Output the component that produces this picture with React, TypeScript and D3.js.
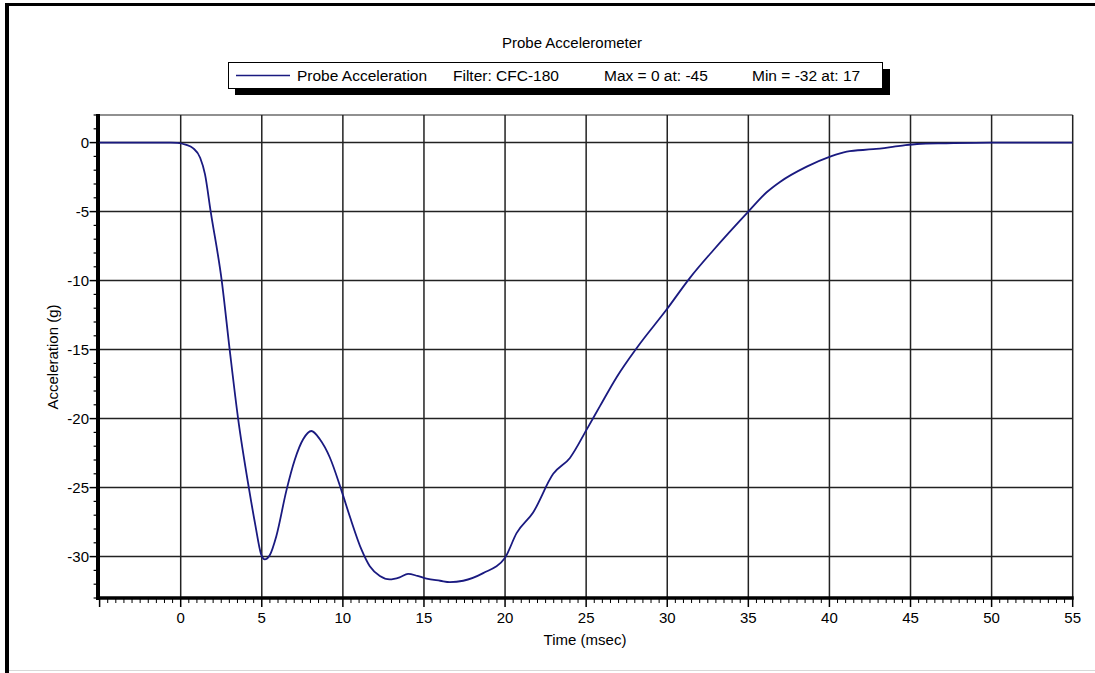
import * as d3 from "d3";

// probe acceleration trace (time in msec, accel in g)
const timeMs = [
  -5, -0.6, -0.2, 0.3, 0.76, 1.2, 1.5, 1.85, 2.53, 3.02, 3.54, 4.2, 4.6, 4.95,
  5.18, 5.49, 5.9, 6.52, 7.03, 7.55, 8.06, 8.58, 9.19, 9.91, 10.43, 11.15, 11.66,
  12.28, 12.89, 13.5, 14.02, 14.6, 15.16, 16.0, 16.6, 17.42, 18.65, 19.99, 20.71,
  21.73, 22.97, 24.0, 25.03, 25.85, 26.88, 28.11, 29.96, 31.4, 32.84, 35.0, 36.13,
  36.95, 38.6, 40.04, 41.07, 42.7, 44.36, 45.4, 47.2, 50, 55,
];
const accelG = [
  0, 0, -0.02, -0.15, -0.4, -1.1, -2.3, -5.0, -10.0, -15.0, -20.0, -25.0, -27.7,
  -29.8, -30.2, -29.9, -28.5, -25.2, -23.0, -21.5, -20.9, -21.5, -22.8, -25.2, -27.1,
  -29.5, -30.7, -31.4, -31.65, -31.5, -31.25, -31.4, -31.6, -31.75, -31.85, -31.75,
  -31.2, -30.1, -28.3, -26.8, -24.0, -22.85, -20.8, -19.1, -17.0, -14.9, -12.1, -9.8,
  -7.8, -5.0, -3.6, -2.85, -1.74, -1.01, -0.65, -0.48, -0.24, -0.1, -0.05, 0, 0,
];

const xTickLabels = [0, 5, 10, 15, 20, 25, 30, 35, 40, 45, 50, 55];
const yTickLabels = [0, -5, -10, -15, -20, -25, -30];

const chartTitle = "Probe Accelerometer";
const seriesName = "Probe Acceleration";
const legendNotes = ["Filter: CFC-180", "Max = 0 at: -45", "Min = -32 at: 17"];

const W = 1095;
const H = 673;
const FONT = "'Liberation Sans', Arial, sans-serif";

export default function App() {
  const x = d3.scaleLinear().domain([-5, 55]).range([99.6, 1072.7]);
  const y = d3.scaleLinear().domain([-33, 2]).range([598, 115]);

  const points = timeMs.map((t, i) => [t, accelG[i]] as [number, number]);
  const line = d3
    .line<[number, number]>()
    .x((d) => x(d[0]))
    .y((d) => y(d[1]))
    .curve(d3.curveMonotoneX);

  const xMinor = d3.range(-5, 55.01, 0.5);
  const yMinor = d3.range(-33, 2.01, 1);

  const x0 = x(-5);
  const x1 = x(55);
  const yTop = y(2);
  const yBot = y(-33);

  const legendX = [297, 453, 604, 752];

  return (
    <svg
      width={W}
      height={H}
      style={{ position: "absolute", left: 0, top: 0, background: "#fff" }}
      fontFamily={FONT}
    >
      {/* window frame */}
      <rect x={0} y={0} width={W} height={H} fill="#fff" />
      <line x1={5} x2={W} y1={4.5} y2={4.5} stroke="#000" strokeWidth={3} />
      <line x1={7} x2={7} y1={3} y2={H} stroke="#000" strokeWidth={4} />
      <line x1={9} x2={W} y1={670.5} y2={670.5} stroke="#d8d8d8" strokeWidth={1} />

      {/* title */}
      <text x={572} y={42} textAnchor="middle" dominantBaseline="central" fontSize={15}>
        {chartTitle}
      </text>

      {/* legend */}
      <rect x={235} y={69} width={655} height={26} fill="#000" />
      <rect x={228.5} y={62.5} width={654} height={26} fill="#fff" stroke="#000" strokeWidth={1} />
      <line x1={236} x2={290} y1={75.5} y2={75.5} stroke="#1a1a80" strokeWidth={1.5} />
      <text x={legendX[0]} y={75} dominantBaseline="central" fontSize={15.5}>
        {seriesName}
      </text>
      {legendNotes.map((s, i) => (
        <text key={s} x={legendX[i + 1]} y={75} dominantBaseline="central" fontSize={15.5}>
          {s}
        </text>
      ))}

      {/* grid */}
      {xTickLabels.map((t) => (
        <line key={"gx" + t} x1={x(t)} x2={x(t)} y1={yTop} y2={yBot} stroke="#222" strokeWidth={1.5} />
      ))}
      {yTickLabels.map((v) => (
        <line key={"gy" + v} x1={x0} x2={x1} y1={y(v)} y2={y(v)} stroke="#222" strokeWidth={1.5} />
      ))}
      <line x1={x0} x2={x1} y1={yTop} y2={yTop} stroke="#222" strokeWidth={1.2} />

      {/* minor + major ticks */}
      {xMinor.map((t) => {
        const major = Math.abs(t % 5) < 1e-6;
        return (
          <line
            key={"tx" + t}
            x1={x(t)}
            x2={x(t)}
            y1={yBot}
            y2={yBot + (major ? 9 : 5)}
            stroke="#000"
            strokeWidth={major ? 1.5 : 1}
          />
        );
      })}
      {yMinor.map((v) => {
        const major = Math.abs(v % 5) < 1e-6;
        return (
          <line
            key={"ty" + v}
            x1={x0 - (major ? 10 : 6)}
            x2={x0}
            y1={y(v)}
            y2={y(v)}
            stroke="#000"
            strokeWidth={major ? 1.5 : 1.2}
          />
        );
      })}

      {/* axes */}
      <line x1={x0 - 1.6} x2={x0 - 1.6} y1={yTop - 1} y2={yBot + 2} stroke="#000" strokeWidth={4} />
      <line x1={x0 - 3.6} x2={x1 + 1} y1={yBot} y2={yBot} stroke="#000" strokeWidth={3.5} />

      {/* tick labels */}
      {xTickLabels.map((t) => (
        <text key={"lx" + t} x={x(t)} y={617} textAnchor="middle" dominantBaseline="central" fontSize={15}>
          {t}
        </text>
      ))}
      {yTickLabels.map((v) => (
        <text key={"ly" + v} x={89} y={y(v)} textAnchor="end" dominantBaseline="central" fontSize={15}>
          {v}
        </text>
      ))}

      {/* axis titles */}
      <text x={585} y={639} textAnchor="middle" dominantBaseline="central" fontSize={15}>
        Time (msec)
      </text>
      <text
        transform="translate(52,357) rotate(-90)"
        textAnchor="middle"
        dominantBaseline="central"
        fontSize={15}
      >
        Acceleration (g)
      </text>

      {/* data */}
      <path d={line(points) ?? ""} fill="none" stroke="#1a1a80" strokeWidth={1.8} />
    </svg>
  );
}
